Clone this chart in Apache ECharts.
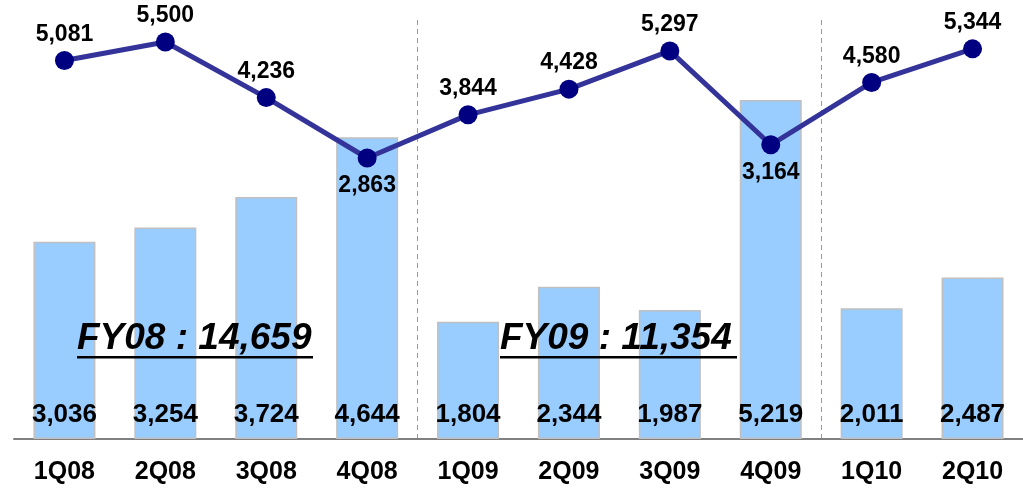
<!DOCTYPE html>
<html>
<head>
<meta charset="utf-8">
<script src="https://cdn.jsdelivr.net/npm/echarts@6/dist/echarts.min.js"></script>
<style>
  html, body { margin: 0; padding: 0; background: #fff; }
  #chart { width: 1023px; height: 494px; }
</style>
</head>
<body>
<div id="chart"></div>
<script>
const quarters = ['1Q08', '2Q08', '3Q08', '4Q08', '1Q09', '2Q09', '3Q09', '4Q09', '1Q10', '2Q10'];
const barValues = [3036, 3254, 3724, 4644, 1804, 2344, 1987, 5219, 2011, 2487];
const lineValues = [5081, 5500, 4236, 2863, 3844, 4428, 5297, 3164, 4580, 5344];
const labelsBelow = ['4Q08', '4Q09'];
const fiscalTotals = [
  { text: 'FY08 : 14,659', x: 77, width: 236 },
  { text: 'FY09 : 11,354', x: 500, width: 237 },
];

const chart = echarts.init(document.getElementById('chart'));

const fmt = (v) => v.toLocaleString('en-US');
const font = "'Liberation Sans', Arial, sans-serif";

chart.setOption({
  animation: false,
  backgroundColor: '#fff',
  grid: { left: 14, right: 0, top: 20, bottom: 55 },
  xAxis: {
    type: 'category',
    data: quarters,
    axisLine: { lineStyle: { color: '#808080', width: 2 } },
    axisTick: { show: false },
    axisLabel: {
      color: '#000',
      fontFamily: font,
      fontWeight: 'bold',
      fontSize: 25,
      margin: 21,
    },
    splitLine: {
      show: true,
      interval: (i) => i === 4 || i === 8,
      lineStyle: { color: '#999', type: [5, 4], width: 1 },
    },
  },
  yAxis: [
    { type: 'value', min: 0, max: 6450, show: false, splitLine: { show: false } },
    { type: 'value', min: -3525, max: 6000, show: false, splitLine: { show: false } },
  ],
  series: [
    {
      type: 'bar',
      data: barValues,
      barWidth: 62,
      itemStyle: { color: '#99ccff', borderColor: '#c0c0c0', borderWidth: 1.5 },
      label: {
        show: true,
        position: 'insideBottom',
        distance: 11,
        color: '#000',
        fontFamily: font,
        fontWeight: 'bold',
        fontSize: 26,
        formatter: (p) => fmt(p.value),
      },
    },
    {
      type: 'line',
      yAxisIndex: 1,
      data: lineValues.map((v, i) => {
        const below = labelsBelow.includes(quarters[i]);
        return { value: v, label: { position: below ? 'bottom' : 'top', distance: below ? 7 : 5 } };
      }),
      symbol: 'circle',
      symbolSize: 19,
      lineStyle: { color: '#333399', width: 5 },
      itemStyle: { color: '#000080' },
      label: {
        show: true,
        color: '#000',
        fontFamily: font,
        fontWeight: 'bold',
        fontSize: 23,
        formatter: (p) => fmt(p.value),
      },
      z: 5,
    },
  ],
  graphic: fiscalTotals.flatMap((f) => [
    {
      type: 'text',
      left: f.x,
      top: 320,
      z: 10,
      style: {
        text: f.text,
        fill: '#000',
        font: `italic bold 37px ${font}`,
      },
    },
    {
      type: 'rect',
      shape: { x: f.x, y: 356, width: f.width, height: 2.5 },
      style: { fill: '#000' },
      z: 10,
    },
  ]),
});
</script>
</body>
</html>
